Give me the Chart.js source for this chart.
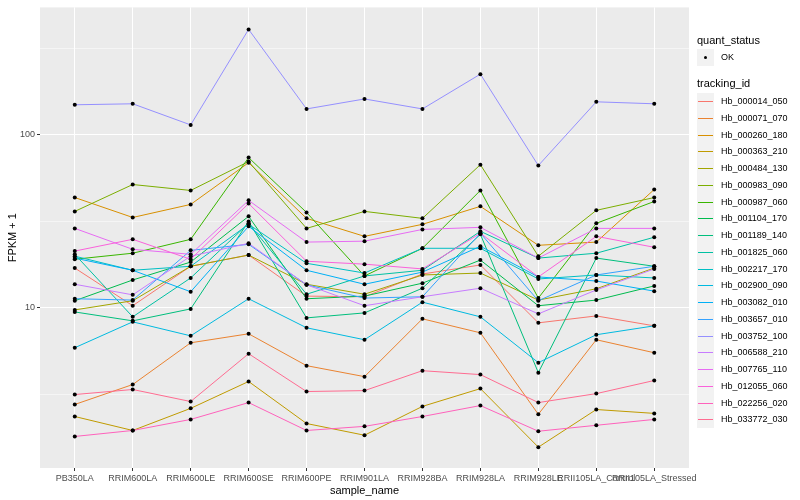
<!DOCTYPE html>
<html>
<head>
<meta charset="utf-8">
<script src="https://cdn.jsdelivr.net/npm/chart.js@4.4.1/dist/chart.umd.min.js"></script>
<style>
  body { margin: 0; background: #fff; font-family: "Liberation Sans", Arial, sans-serif; }
  #wrap { position: relative; width: 800px; height: 500px; }
  #legend { position: absolute; left: 697px; top: 0; width: 103px; font-size: 9px; color: #000; }
  .lg-title { position: absolute; left: 0; font-size: 11px; white-space: nowrap; }
  .lg-row { position: absolute; left: 0; height: 17px; white-space: nowrap; }
  .lg-key { position: absolute; left: 0; top: 0; width: 17px; height: 17px; background: #f2f2f2; }
  .lg-key i { position: absolute; left: 1px; right: 1px; top: 8px; height: 1px; }
  .lg-key b { position: absolute; left: 7px; top: 7px; width: 3px; height: 3px; background: #000; border-radius: 50%; }
  .lg-text { position: absolute; left: 24px; top: 3px; }
</style>
</head>
<body>
<div id="wrap">
  <canvas id="chart"></canvas>
  <div id="legend"></div>
</div>
<script>
// samples on the x axis
const sampleNames = ['PB350LA', 'RRIM600LA', 'RRIM600LE', 'RRIM600SE', 'RRIM600PE', 'RRIM901LA',
  'RRIM928BA', 'RRIM928LA', 'RRIM928LE', 'RRII105LA_Control', 'RRII105LA_Stressed'];

const trackingIds = ['Hb_000014_050', 'Hb_000071_070', 'Hb_000260_180', 'Hb_000363_210', 'Hb_000484_130',
  'Hb_000983_090', 'Hb_000987_060', 'Hb_001104_170', 'Hb_001189_140', 'Hb_001825_060',
  'Hb_002217_170', 'Hb_002900_090', 'Hb_003082_010', 'Hb_003657_010', 'Hb_003752_100',
  'Hb_006588_210', 'Hb_007765_110', 'Hb_012055_060', 'Hb_022256_020', 'Hb_033772_030'];

const lineColors = ['#F8766D', '#EA8331', '#D89000', '#C09B00', '#A3A500', '#7CAE00', '#39B600',
  '#00BB4E', '#00BF7D', '#00C1A3', '#00BFC4', '#00BAE0', '#00B0F6', '#35A2FF', '#9590FF',
  '#C77CFF', '#E76BF3', '#FA62DB', '#FF62BC', '#FF6C91'];

// FPKM + 1 per sample
const hb_000014_050 = [17.0, 10.3, 17.4, 20.2, 11.7, 11.6, 15.7, 17.7, 8.20, 8.99, 7.88];
const hb_000071_070 = [2.77, 3.61, 6.29, 7.09, 4.64, 4.01, 8.65, 7.18, 2.43, 6.55, 5.51];
const hb_000260_180 = [43.4, 33.3, 39.6, 69.0, 32.9, 25.9, 30.4, 38.6, 23.0, 24.0, 48.3];
const hb_000363_210 = [2.36, 1.96, 2.63, 3.76, 2.15, 1.84, 2.70, 3.42, 1.57, 2.59, 2.46];
const hb_000484_130 = [9.74, 11.0, 17.4, 20.2, 13.7, 12.0, 15.5, 15.9, 11.1, 12.9, 17.0];
const hb_000983_090 = [36.1, 51.6, 47.7, 70.0, 28.8, 36.1, 32.9, 67.2, 19.9, 36.6, 43.4];
const hb_000987_060 = [19.1, 20.7, 24.9, 73.8, 35.6, 15.3, 22.1, 47.7, 11.4, 30.8, 41.2];
const hb_001104_170 = [11.0, 14.5, 18.4, 33.8, 11.3, 11.7, 13.9, 18.9, 10.3, 11.1, 13.4];
const hb_001189_140 = [9.48, 8.42, 9.87, 31.6, 8.76, 9.36, 13.0, 26.6, 4.23, 19.4, 17.4];
const hb_001825_060 = [20.4, 8.88, 14.9, 30.8, 12.0, 15.3, 16.5, 27.7, 19.4, 20.7, 25.6];
const hb_002217_170 = [19.9, 16.5, 17.4, 30.4, 18.1, 15.9, 22.1, 22.1, 14.7, 15.5, 14.9];
const hb_002900_090 = [5.89, 8.31, 6.90, 11.3, 7.68, 6.55, 10.8, 8.88, 4.83, 7.00, 7.88];
const hb_003082_010 = [19.4, 16.5, 12.4, 29.6, 16.5, 13.7, 16.1, 22.7, 15.1, 14.3, 12.5];
const hb_003657_010 = [11.3, 11.1, 21.5, 23.3, 13.6, 11.4, 11.6, 27.0, 11.0, 15.5, 17.4];
const hb_003752_100 = [149, 151, 114, 406, 141, 161, 141, 224, 66.4, 155, 151];
const hb_006588_210 = [13.7, 11.9, 19.9, 23.6, 13.6, 10.3, 11.6, 13.0, 9.24, 12.7, 16.8];
const hb_007765_110 = [28.8, 21.8, 20.4, 41.8, 24.0, 24.3, 28.4, 29.2, 19.4, 28.8, 28.8];
const hb_012055_060 = [21.3, 24.9, 19.1, 40.1, 18.6, 17.9, 16.8, 27.0, 15.1, 25.9, 22.4];
const hb_022256_020 = [1.81, 1.96, 2.27, 2.84, 1.96, 2.07, 2.36, 2.73, 1.94, 2.10, 2.27];
const hb_033772_030 = [3.16, 3.38, 2.88, 5.44, 3.29, 3.33, 4.34, 4.12, 2.84, 3.20, 3.81];

const seriesValues = [hb_000014_050, hb_000071_070, hb_000260_180, hb_000363_210, hb_000484_130,
  hb_000983_090, hb_000987_060, hb_001104_170, hb_001189_140, hb_001825_060,
  hb_002217_170, hb_002900_090, hb_003082_010, hb_003657_010, hb_003752_100,
  hb_006588_210, hb_007765_110, hb_012055_060, hb_022256_020, hb_033772_030];

const yTicks = [10, 100];
const yMinorTicks = [3.1623, 31.623, 316.23];

const toPoints = vals => vals.map((v, i) => ({ x: i + 1, y: v }));

// black points on top (first dataset is drawn last), then lines in reverse so the last id is on top
const pointsDataset = {
  type: 'scatter',
  label: 'OK',
  data: seriesValues.flatMap(toPoints),
  pointRadius: 2,
  pointHoverRadius: 2,
  pointBackgroundColor: '#000',
  pointBorderColor: '#000',
  pointBorderWidth: 0,
  showLine: false
};

const lineDatasets = trackingIds.map((id, k) => ({
  type: 'line',
  label: id,
  data: toPoints(seriesValues[k]),
  borderColor: lineColors[k],
  borderWidth: 1,
  pointRadius: 0,
  tension: 0,
  fill: false
})).reverse();

const panelBackground = {
  id: 'panelBackground',
  beforeDraw(chart) {
    const { ctx, chartArea: a } = chart;
    ctx.save();
    ctx.fillStyle = '#ebebeb';
    ctx.fillRect(a.left, a.top, a.right - a.left, a.bottom - a.top);
    ctx.restore();
  }
};

const isMajor = ctx => ctx.tick && yTicks.includes(ctx.tick.value);

new Chart(document.getElementById('chart'), {
  data: { datasets: [pointsDataset, ...lineDatasets] },
  options: {
    responsive: true,
    maintainAspectRatio: false,
    animation: false,
    layout: { padding: { left: 0, right: 111, top: 4, bottom: 0 } },
    plugins: { legend: { display: false }, tooltip: { enabled: false } },
    scales: {
      x: {
        type: 'linear',
        min: 0.4,
        max: 11.6,
        afterBuildTicks: scale => { scale.ticks = sampleNames.map((_, i) => ({ value: i + 1 })); },
        afterFit: scale => { scale.height = 32; },
        ticks: {
          autoSkip: false,
          maxRotation: 0,
          minRotation: 0,
          padding: 2,
          color: '#4d4d4d',
          font: { family: '"Liberation Sans", Arial, sans-serif', size: 9 },
          callback: v => sampleNames[v - 1]
        },
        grid: { color: '#ffffff', lineWidth: 1, tickLength: 3, tickColor: '#333333' },
        border: { display: false },
        title: {
          display: true,
          text: 'sample_name',
          color: '#000',
          padding: { top: 0, bottom: 2 },
          font: { family: '"Liberation Sans", Arial, sans-serif', size: 11 }
        }
      },
      y: {
        type: 'logarithmic',
        min: 1.19,
        max: 544,
        afterBuildTicks: scale => {
          scale.ticks = [...yMinorTicks, ...yTicks].sort((a, b) => a - b).map(v => ({ value: v }));
        },
        afterFit: scale => { scale.width = 40; },
        ticks: {
          autoSkip: false,
          padding: 2,
          color: '#4d4d4d',
          font: { family: '"Liberation Sans", Arial, sans-serif', size: 9 },
          callback: v => (yTicks.includes(v) ? String(v) : '')
        },
        grid: {
          color: '#ffffff',
          lineWidth: ctx => (isMajor(ctx) ? 1 : 0.5),
          tickLength: 3,
          tickColor: ctx => (isMajor(ctx) ? '#333333' : 'rgba(0,0,0,0)')
        },
        border: { display: false },
        title: {
          display: true,
          text: 'FPKM + 1',
          color: '#000',
          padding: { top: 6, bottom: 0 },
          font: { family: '"Liberation Sans", Arial, sans-serif', size: 11 }
        }
      }
    }
  },
  plugins: [panelBackground]
});

// legend, ggplot style
function buildLegend() {
  const legend = document.getElementById('legend');
  let html = '<div class="lg-title" style="top:34px">quant_status</div>';
  html += '<div class="lg-row" style="top:49px"><div class="lg-key"><b></b></div><div class="lg-text">OK</div></div>';
  html += '<div class="lg-title" style="top:77px">tracking_id</div>';
  trackingIds.forEach((id, k) => {
    const top = Math.round(93 + k * 16.75);
    html += `<div class="lg-row" style="top:${top}px"><div class="lg-key"><i style="background:${lineColors[k]}"></i></div><div class="lg-text">${id}</div></div>`;
  });
  legend.innerHTML = html;
}
buildLegend();
</script>
</body>
</html>
